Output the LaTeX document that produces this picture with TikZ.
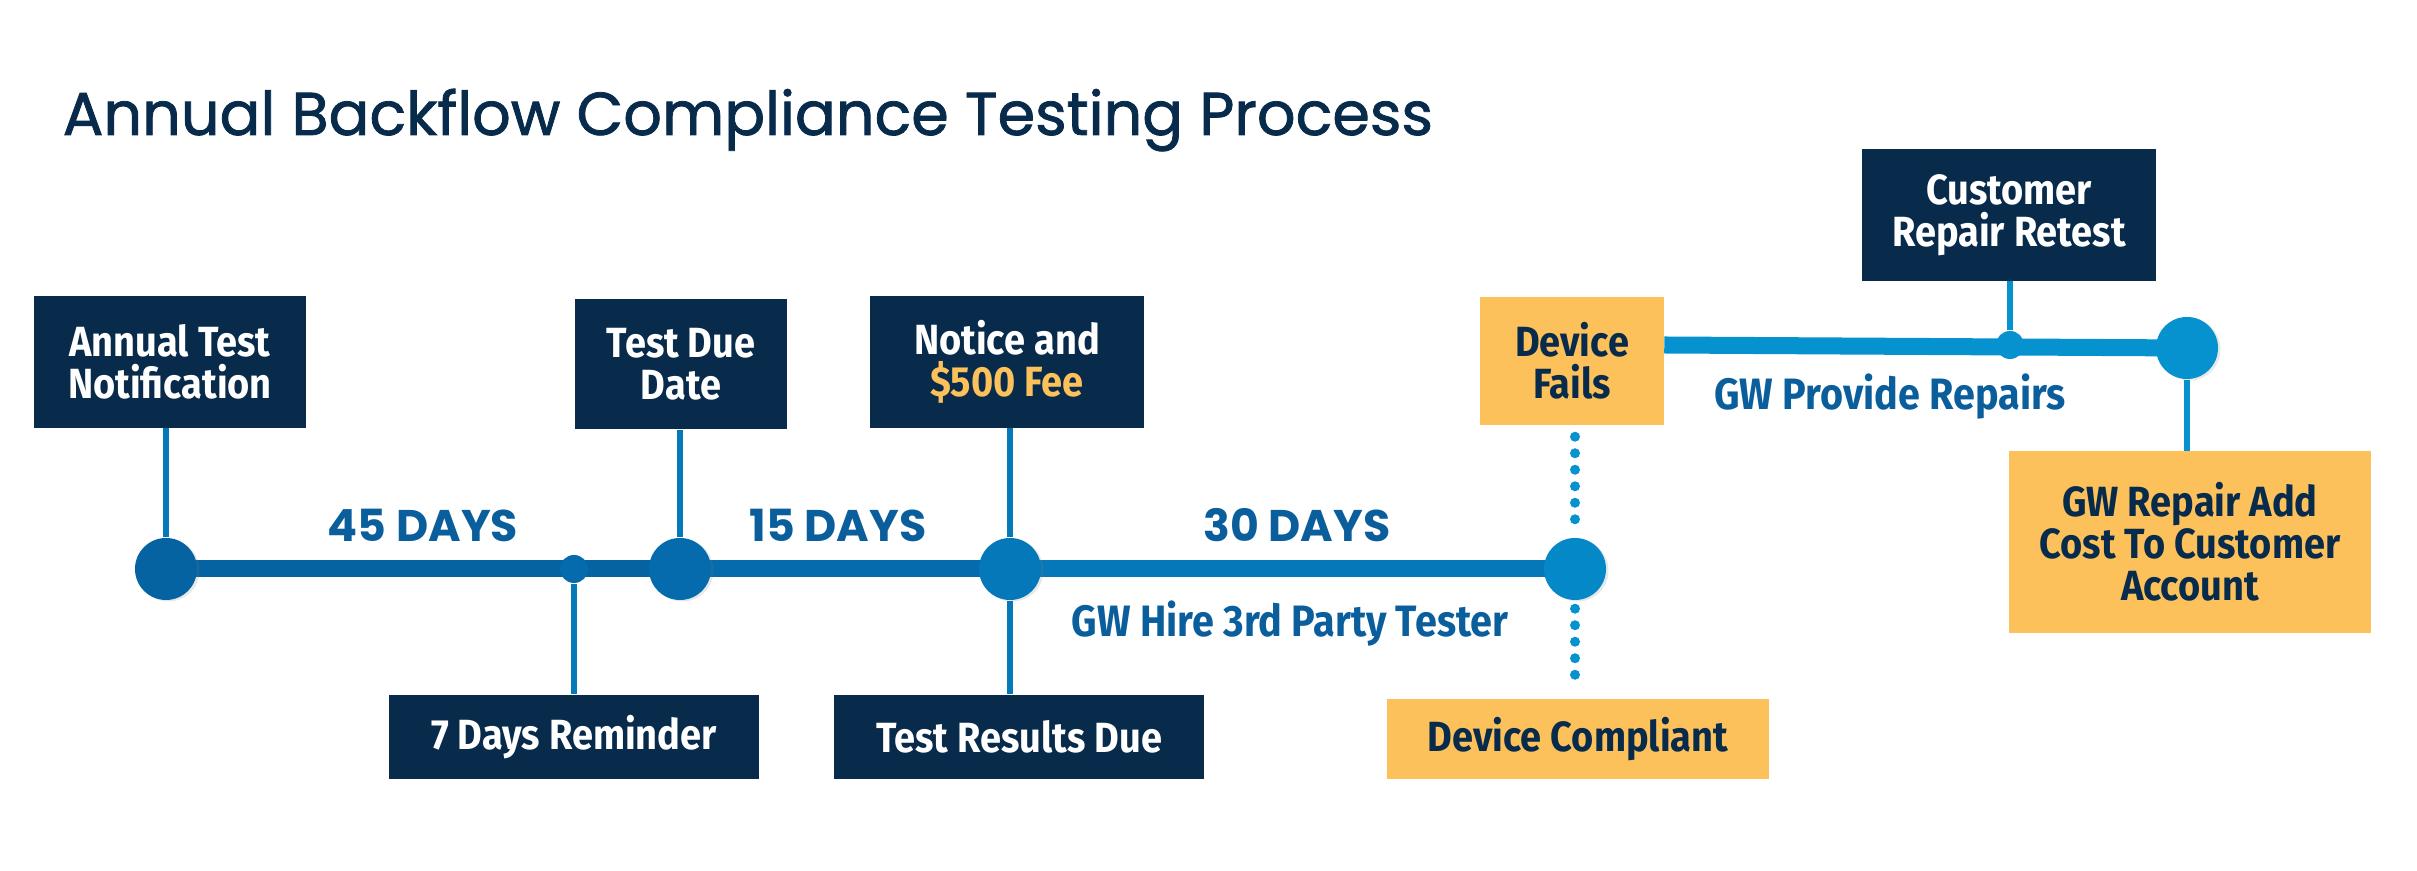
\documentclass[tikz,border=0pt]{standalone}
\usepackage{fontspec}
\setmainfont{Fira Sans}
\newfontfamily\condfont[FakeStretch=0.9]{Fira Sans}
\newfontfamily\titlefont[FakeBold=1.3]{Poppins}
\newfontfamily\diasfont{Poppins}
\usetikzlibrary{positioning,backgrounds,shadows}
\definecolor{cnavy}{HTML}{082B4C}
\definecolor{cazula}{HTML}{0563A1}
\definecolor{cazulb}{HTML}{056BAC}
\definecolor{cazulc}{HTML}{0578BA}
\definecolor{cazuld}{HTML}{0588C8}
\definecolor{cclaro}{HTML}{0592CF}
\definecolor{cetq}{HTML}{0B5E9C}
\definecolor{camarillo}{HTML}{FCC15A}
\tikzset{
  cajao/.style={rectangle, fill=cnavy, text=white, align=center, inner sep=0pt,
    font=\condfont\bfseries\fontsize{12}{12}\selectfont},
  cajaa/.style={rectangle, fill=camarillo, text=cnavy, align=center, inner sep=0pt,
    font=\condfont\bfseries\fontsize{12}{12}\selectfont},
  punto/.style={circle, fill=#1, minimum size=0.62cm, inner sep=0pt,
    drop shadow={shadow xshift=0.025cm, shadow yshift=-0.015cm, opacity=0.18}},
  puntito/.style={circle, fill=#1, minimum size=0.28cm, inner sep=0pt},
  linea/.style={line width=0.17cm, draw=#1},
  tallo/.style={line width=0.06cm, draw=cazulc},
  punteado/.style={line width=0.1cm, draw=cclaro, line cap=round, dash pattern=on 0pt off 0.165cm},
  dias/.style={font=\diasfont\bfseries\fontsize{12.6}{14}\selectfont, text=cetq, inner sep=0pt},
  etq/.style={font=\condfont\bfseries\fontsize{12.5}{13}\selectfont, text=cetq, inner sep=0pt},
  titulo/.style={font=\titlefont\fontsize{17.2}{20}\selectfont, text=cnavy, inner sep=0pt},
}
\begin{document}
\begin{tikzpicture}[x=0.01cm, y=-0.01cm]
  \useasboundingbox (0,0) rectangle (2417,871);
  \node[titulo, anchor=base west] (tit) at (62,135) {Annual Backflow Compliance Testing Process};

  \node[punto=cazula] (c1) at (166,569) {};
  \node[puntito=cazulb] (s1) at (574,569) {};
  \node[punto=cazulb] (c2) at (680,569) {};
  \node[punto=cazulc] (c3) at (1010,569) {};
  \node[punto=cazuld] (c4) at (1575,569) {};
  \node[puntito=cclaro] (s2) at (2010,345) {};
  \node[punto=cclaro] (c5) at (2187,348) {};

  \node[cajao, minimum width=2.72cm, minimum height=1.31cm] (notif) at (170,362) {Annual Test\\Notification};
  \node[cajao, minimum width=2.11cm, minimum height=1.30cm] (due) at (681,364) {Test Due\\Date};
  \node[cajao, minimum width=2.73cm, minimum height=1.31cm] (notice) at (1007,362) {Notice and\\{\color{camarillo}\$500 Fee}};
  \node[cajaa, minimum width=1.83cm, minimum height=1.28cm] (fails) at (1572,361) {Device\\Fails};
  \node[cajao, minimum width=2.94cm, minimum height=1.31cm] (retest) at (2009,215) {Customer\\Repair Retest};
  \node[cajaa, minimum width=3.62cm, minimum height=1.81cm] (addcost) at (2190,542) {GW Repair Add\\Cost To Customer\\Account};
  \node[cajao, minimum width=3.69cm, minimum height=0.84cm] (remind) at (574,737) {7 Days Reminder};
  \node[cajao, minimum width=3.69cm, minimum height=0.84cm] (results) at (1019,737) {Test Results Due};
  \node[cajaa, minimum width=3.82cm, minimum height=0.80cm] (compliant) at (1578,739) {Device Compliant};

  \node[dias, anchor=base] (d45) at (423,542) {45 DAYS};
  \node[dias, anchor=base] (d15) at (838,542) {15 DAYS};
  \node[dias, anchor=base] (d30) at (1297,542) {30 DAYS};
  \node[etq, anchor=base] (hire) at (1290,637) {GW Hire 3rd Party Tester};
  \node[etq, anchor=base] (repairs) at (1890,410) {GW Provide Repairs};

  \begin{scope}[on background layer]
    \draw[linea=cazula] (c1.center) -- (c2.center); \draw[linea=cazulb] (c2.center) -- (c3.center);
    \draw[linea=cazulc] (c3.center) -- (c4.center);
    \draw[linea=cclaro] (fails.east |- s2) -- (c5.center);
    \draw[tallo] (c1) -- (c1 |- notif.south); \draw[tallo] (c2) -- (c2 |- due.south);
    \draw[tallo] (c3) -- (c3 |- notice.south); \draw[tallo] (s1) -- (s1 |- remind.north);
    \draw[tallo] (c3) -- (c3 |- results.north); \draw[tallo, draw=cclaro] (s2) -- (s2 |- retest.south);
    \draw[tallo, draw=cclaro] (c5) -- (c5 |- addcost.north);
    \draw[punteado, shorten <=0.11cm, shorten >=0.08cm] (fails.south -| c4) -- (c4.north);
    \draw[punteado, shorten <=0.08cm, shorten >=0.11cm] (c4.south) -- (compliant.north -| c4);
  \end{scope}
\end{tikzpicture}
\end{document}
